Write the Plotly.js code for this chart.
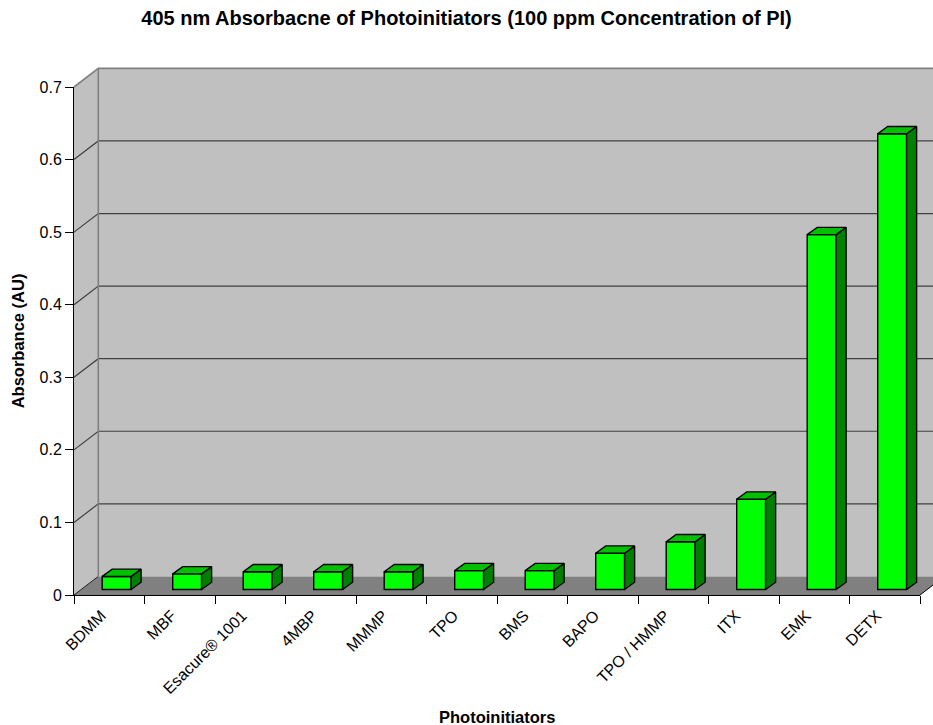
<!DOCTYPE html>
<html>
<head>
<meta charset="utf-8">
<script src="https://cdn.plot.ly/plotly-3.0.1.min.js"></script>
<style>html,body{margin:0;padding:0;background:#fff;}#chart{width:933px;height:725px;}</style>
</head>
<body>
<div id="chart"></div>
<script>
// ---- data ----
const categories = ['BDMM', 'MBF', 'Esacure® 1001', '4MBP', 'MMMP', 'TPO', 'BMS', 'BAPO', 'TPO / HMMP', 'ITX', 'EMK', 'DETX'];
const absorbance = [0.018, 0.0215, 0.0244, 0.0244, 0.0244, 0.026, 0.026, 0.050, 0.0657, 0.1244, 0.489, 0.628];
const yTickVals = [0, 0.1, 0.2, 0.3, 0.4, 0.5, 0.6, 0.7];
const chartTitle = '405 nm Absorbacne of Photoinitiators (100 ppm Concentration of PI)';
const xTitle = 'Photoinitiators';
const yTitle = 'Absorbance (AU)';

// ---- geometry / style ----
const W = 933, H = 725, ML = 74, MR = 13, MT = 87, MB = 130;
const plotW = W - ML - MR, plotH = H - MT - MB;
const YMAX = 0.7;
const pxPerUnitY = plotH / YMAX;
const pxPerCat = plotW / categories.length;
const WALL_DX = 24.3, WALL_DY = 18.6;     // depth of floor / walls in px
const BAR_W = 0.41, BAR_OFF = -0.1;       // bar front face width/offset (category units)
const BAR_LIFT = 5.5 / pxPerUnitY;        // bar front face sits slightly behind the front plane
const BAR_DX = 10 / pxPerCat, BAR_DY = 7.3 / pxPerUnitY;

const FRONT = '#00FF00', TOP = '#00C000', SIDE = '#008000';
const FONT = 'Liberation Sans, Arial, sans-serif';
const TICK_SIZE = 16, AXIS_TITLE_SIZE = 16.5, TITLE_SIZE = 20;

// helpers: pixel -> paper
const px2x = px => (px - ML) / plotW;
const py2y = py => (H - MB - py) / plotH;
const pyOf = v => MT + plotH * (1 - v / YMAX);
const path = pts => 'M' + pts.map(p => px2x(p[0]).toFixed(5) + ',' + py2y(p[1]).toFixed(5)).join(' L') + ' Z';
const line = pts => 'M' + pts.map(p => px2x(p[0]).toFixed(5) + ',' + py2y(p[1]).toFixed(5)).join(' L');

const fL = ML, fR = ML + plotW, f0 = pyOf(0), fTop = pyOf(YMAX);
const bL = fL + WALL_DX, bR = fR + WALL_DX;

const shapes = [];
function addPath(d, fill, lc, lw) {
  shapes.push({type: 'path', xref: 'paper', yref: 'paper', layer: 'below', path: d,
    fillcolor: fill || 'rgba(0,0,0,0)', line: {color: lc || 'rgba(0,0,0,0)', width: lw || 0}});
}
// left wall
addPath(path([[fL, f0], [bL, f0 - WALL_DY], [bL, fTop - WALL_DY], [fL, fTop]]), '#C0C0C0');
// back wall
addPath(path([[bL, f0 - WALL_DY], [bR, f0 - WALL_DY], [bR, fTop - WALL_DY], [bL, fTop - WALL_DY]]), '#C0C0C0');
// floor
addPath(path([[fL, f0], [fR, f0], [bR, f0 - WALL_DY], [bL, f0 - WALL_DY]]), '#808080');
// gridlines
yTickVals.forEach(v => {
  const y = pyOf(v);
  if (v === 0) {
    addPath(line([[fL, y], [bL, y - WALL_DY]]), null, '#202020', 1);
  } else if (v < YMAX) {
    addPath(line([[fL, y], [bL, y - WALL_DY], [bR, y - WALL_DY]]), null, '#404040', 1.2);
  } else {
    addPath(line([[fL, y], [bL, y - WALL_DY], [bR, y - WALL_DY]]), null, '#808080', 1.6);
  }
});
// back-left vertical edge
addPath(line([[bL, f0 - WALL_DY], [bL, fTop - WALL_DY]]), null, '#808080', 1.6);
// floor right edge
addPath(line([[fR, f0], [bR, f0 - WALL_DY]]), null, '#000000', 1);

// ---- bar faces from data ----
const topX = [], topY = [], sideX = [], sideY = [];
absorbance.forEach((v, i) => {
  const x0 = i + BAR_OFF, x1 = x0 + BAR_W;
  const yb = BAR_LIFT, yt = BAR_LIFT + v;
  topX.push(x0, x1, x1 + BAR_DX, x0 + BAR_DX, x0, null);
  topY.push(yt, yt, yt + BAR_DY, yt + BAR_DY, yt, null);
  sideX.push(x1, x1, x1 + BAR_DX, x1 + BAR_DX, x1, null);
  sideY.push(yb, yt, yt + BAR_DY, yb + BAR_DY, yb, null);
});

const traces = [
  {type: 'bar', x: categories, y: absorbance, base: BAR_LIFT, width: BAR_W, offset: BAR_OFF,
   marker: {color: FRONT, line: {color: '#000', width: 1.4}}, hoverinfo: 'x+text',
   text: absorbance.map(String), textposition: 'none', showlegend: false},
  {type: 'scatter', mode: 'lines', x: sideX, y: sideY, xaxis: 'x2', yaxis: 'y', fill: 'toself',
   fillcolor: SIDE, line: {color: '#000', width: 1.4}, hoverinfo: 'skip', showlegend: false},
  {type: 'scatter', mode: 'lines', x: topX, y: topY, xaxis: 'x2', yaxis: 'y', fill: 'toself',
   fillcolor: TOP, line: {color: '#000', width: 1.4}, hoverinfo: 'skip', showlegend: false}
];

const layout = {
  width: W, height: H, autosize: false,
  margin: {l: ML, r: MR, t: MT, b: MB, pad: 0},
  paper_bgcolor: '#ffffff', plot_bgcolor: 'rgba(0,0,0,0)',
  font: {family: FONT, size: 12, color: '#000'},
  title: {text: '<b>' + chartTitle + '</b>', font: {family: FONT, size: TITLE_SIZE, color: '#000'},
          x: 0.5, xref: 'container', xanchor: 'center', y: 1 - 18 / H, yref: 'container', yanchor: 'middle'},
  xaxis: {type: 'category', categoryorder: 'array', categoryarray: categories,
          range: [-0.5, categories.length - 0.5], tickson: 'boundaries',
          ticks: 'outside', ticklen: 8, tickwidth: 1, tickcolor: '#000',
          showline: true, linecolor: '#000', linewidth: 1, showgrid: false, zeroline: false,
          tickangle: -45, ticklabelshift: -8, ticklabelstandoff: 4,
          tickfont: {family: FONT, size: TICK_SIZE, color: '#000'}, fixedrange: true},
  xaxis2: {overlaying: 'x', anchor: 'y', range: [-0.5, categories.length - 0.5], visible: false, fixedrange: true},
  yaxis: {range: [0, YMAX], tickvals: yTickVals, ticktext: yTickVals.map(String),
          ticks: 'outside', ticklen: 8, tickwidth: 1, tickcolor: '#000',
          showline: true, linecolor: '#000', linewidth: 1, showgrid: false, zeroline: false,
          tickfont: {family: FONT, size: TICK_SIZE, color: '#000'}, fixedrange: true,
          title: {text: '<b>' + yTitle + '</b>', font: {family: FONT, size: AXIS_TITLE_SIZE, color: '#000'}, standoff: 10}},
  shapes: shapes,
  annotations: [{text: '<b>' + xTitle + '</b>', xref: 'paper', yref: 'paper',
                 x: 0.5, y: py2y(717), xanchor: 'center', yanchor: 'middle', showarrow: false,
                 font: {family: FONT, size: AXIS_TITLE_SIZE, color: '#000'}}]
};

Plotly.newPlot('chart', traces, layout, {displayModeBar: false, staticPlot: true});
</script>
</body>
</html>
